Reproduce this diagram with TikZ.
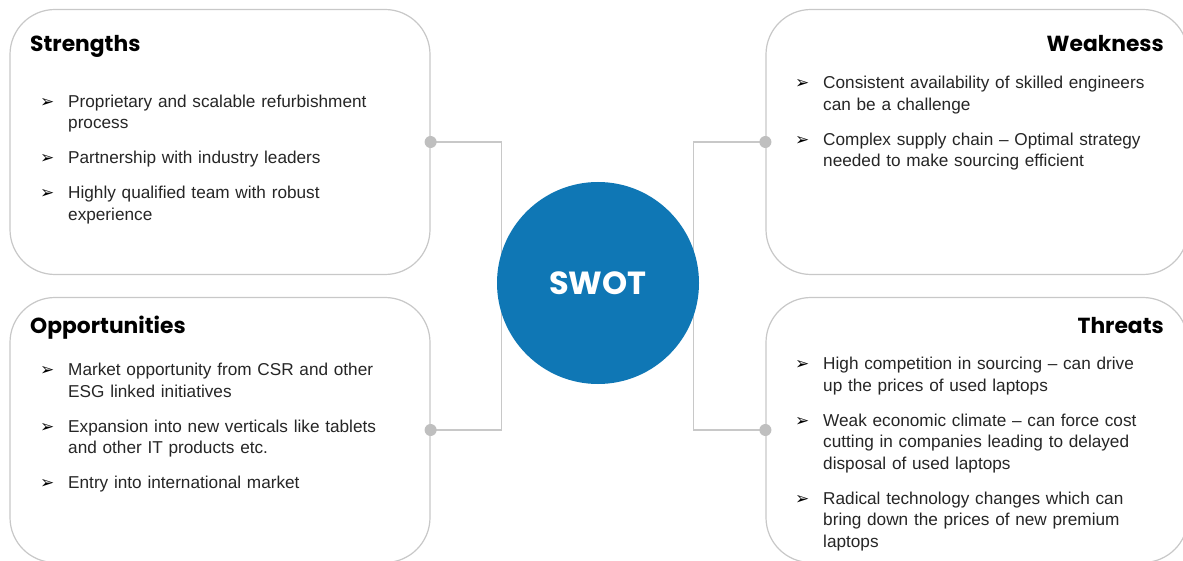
\documentclass[tikz,border=0pt]{standalone}
\usepackage{fontspec}
\setmainfont{Liberation Sans}
\newfontfamily\headfont{Poppins}
\newfontfamily\symfont{DejaVu Sans}
\usetikzlibrary{positioning}
\definecolor{swotblue}{HTML}{0F77B5}
\definecolor{swotgray}{HTML}{C8C8C8}
\newlength{\bulletgap}
\setlength{\bulletgap}{28pt}
\newcommand{\swotitem}[1]{\noindent\hangindent=\bulletgap\hangafter=1%
    \makebox[\bulletgap][l]{\color{black}\symfont\bfseries\fontsize{17}{17}\selectfont ➢}#1\par}
\tikzset{
    swotbox/.style={draw=swotgray, line width=1.2pt, rounded corners=45pt,
        minimum width=#1, minimum height=265pt, inner sep=0pt},
    swotbox/.default=420pt,
    swotlink/.style={draw=swotgray, line width=1.2pt},
    swotdot/.style={circle, fill=black!25, inner sep=0pt, minimum size=12pt},
    swotcore/.style={circle, fill=swotblue, text=white, minimum size=202pt,
        inner sep=0pt, font=\headfont\bfseries\fontsize{32}{36}\selectfont},
    swothead/.style={font=\headfont\bfseries\fontsize{21.8}{25}\selectfont,
        inner sep=0pt},
    swotlist/.style={font=\fontsize{17.2}{21.5}\selectfont\setlength{\parskip}{13.5pt},
        text width=380pt, inner sep=0pt, anchor=north west, align=left,
        text=black!85},
}
\begin{document}
\begin{tikzpicture}[x=1pt, y=-1pt]
        \clip (0, 0) rectangle (1183, 561);
        \fill[white] (0, 0) rectangle (1183, 561);
        % the four quadrants and the core
        \node[swotbox] (str) at (220, 142) {};
        \node[swotbox] (opp) at (220, 430) {};
        \node[swotbox=422pt] (wea) at (977, 142) {};
        \node[swotbox=422pt] (thr) at (977, 430) {};
        \draw[swotlink] (str.east) -- ++(71, 0) |- (opp.east);
        \draw[swotlink] (wea.west) -- ++(-72, 0) |- (thr.west);
        \node[swotcore] (swot) at (598, 283) {SWOT};
        \node[swotdot] (strdot) at (str.east) {};
        \node[swotdot] (oppdot) at (opp.east) {};
        \node[swotdot] (weadot) at (wea.west) {};
        \node[swotdot] (thrdot) at (thr.west) {};
        \node[swothead, anchor=base west] (strhead) at (30, 52) {Strengths};
        \node[swothead, anchor=base east] (weahead) at (1164, 52) {Weakness};
        \node[swothead, anchor=base west] (opphead) at (30, 333) {Opportunities};
        \node[swothead, anchor=base east] (thrhead) at (1164, 333) {Threats};
        \node[swotlist] (strlist) at (40, 94.5) {%
            \swotitem{Proprietary and scalable refurbishment\newline process}
            \swotitem{Partnership with industry leaders}
            \swotitem{Highly qualified team with robust\newline experience}};
        \node[swotlist] (wealist) at (795, 76) {%
            \swotitem{Consistent availability of skilled engineers\newline can be a challenge}
            \swotitem{Complex supply chain – Optimal strategy\newline needed to make sourcing efficient}};
        \node[swotlist] (opplist) at (40, 363) {%
            \swotitem{Market opportunity from CSR and other\newline ESG linked initiatives}
            \swotitem{Expansion into new verticals like tablets\newline and other IT products etc.}
            \swotitem{Entry into international market}};
        \node[swotlist] (thrlist) at (795, 357) {%
            \swotitem{High competition in sourcing – can drive\newline up the prices of used laptops}
            \swotitem{Weak economic climate – can force cost\newline cutting in companies leading to delayed\newline disposal of used laptops}
            \swotitem{Radical technology changes which can\newline bring down the prices of new premium\newline laptops}};
    \end{tikzpicture}
\end{document}
